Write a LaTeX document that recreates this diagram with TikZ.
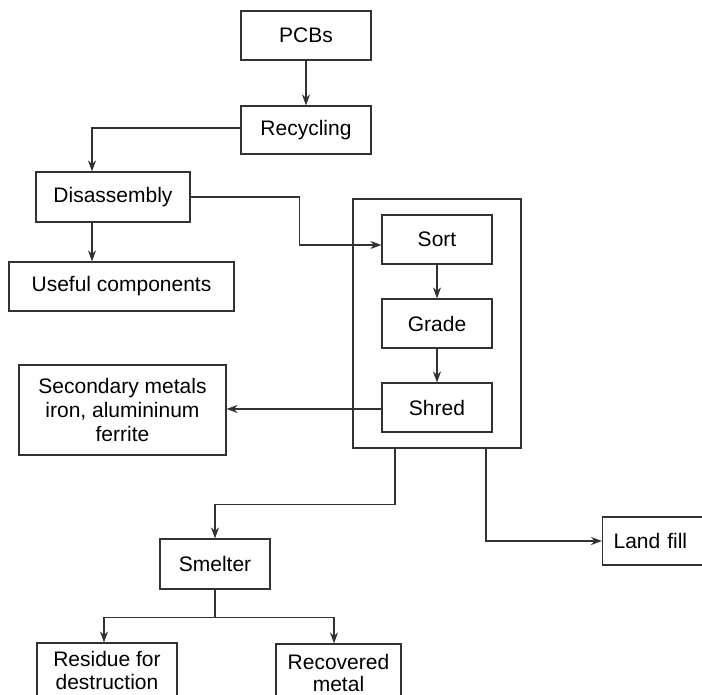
\documentclass[tikz,border=0pt]{standalone}
\usepackage{fontspec}
\setmainfont{Liberation Sans}
\usetikzlibrary{arrows.meta}
\definecolor{ln}{RGB}{50,50,50}
\tikzset{
  bx/.style={draw=ln, line width=1.2pt, inner sep=0pt, align=center, text=black,
             font=\fontsize{21}{24}\selectfont},
  arr/.style={draw=ln, line width=1.2pt, -{Stealth[length=11pt,width=8pt,inset=3.5pt]}},
  plain/.style={draw=ln, line width=1.2pt}
}
\begin{document}
\begin{tikzpicture}[x=1pt,y=-1pt]
\clip (0,0) rectangle (702,695);
\fill[white] (0,0) rectangle (702,695);
% container
\node[bx, minimum width=168pt, minimum height=249pt] (cont) at (437,323.5) {};
% boxes
\node[bx, minimum width=130pt, minimum height=49pt] (pcb) at (306,35.5) {PCBs};
\node[bx, minimum width=130pt, minimum height=48pt] (rec) at (306,130) {Recycling};
\node[bx, minimum width=154pt, minimum height=50pt] (dis) at (113,197) {Disassembly};
\node[bx, minimum width=225pt, minimum height=49pt] (use) at (121.5,286.5) {Useful components};
\node[bx, minimum width=110pt, minimum height=49pt] (sort) at (437,239.5) {Sort};
\node[bx, minimum width=110pt, minimum height=49pt] (grade) at (437,323.5) {Grade};
\node[bx, minimum width=110pt, minimum height=49pt] (shred) at (437,407.5) {Shred};
\node[bx, minimum width=207pt, minimum height=90pt] (sec) at (122.5,410) {Secondary metals\\iron, alumininum\\ferrite};
\node[bx, minimum width=110pt, minimum height=50pt] (smelt) at (215,564) {Smelter};
\node[bx, anchor=west, text width=110pt, align=left, inner xsep=11pt, minimum height=48pt] (land) at (602,541) {Land fill};
\node[bx, font=\fontsize{21}{22.5}\selectfont, minimum width=140pt, minimum height=55pt] (res) at (107,670.5) {Residue for\\destruction};
\node[bx, font=\fontsize{21}{22.5}\selectfont, minimum width=125pt, minimum height=58pt] (recm) at (338.5,673) {Recovered\\metal};
% connectors
\draw[arr] (pcb) -- (rec);
\draw[arr] ([yshift=2pt]rec.west) -| ([xshift=-21pt]dis.north);
\draw[arr] ([xshift=-21pt]dis.south) -- ([xshift=-21pt]dis.south |- use.north);
\draw[arr] (dis.east) -- ++(109,0) |- ([yshift=-5.5pt]sort.west);
\draw[arr] (sort) -- (grade);
\draw[arr] (grade) -- (shred);
\draw[arr] ([yshift=-1.5pt]shred.west) -- ([yshift=-1.5pt]shred.west -| sec.east);
\draw[arr] ([xshift=-42pt]cont.south) -- ++(0,56) -| (smelt.north);
\draw[arr] ([xshift=49pt]cont.south) |- (land.west);
\coordinate (split) at ([yshift=-28pt]smelt.south);
\draw[plain] (smelt.south) -- (split);
\draw[arr] (split) -| ([xshift=-3pt]res.north);
\draw[arr] (split) -| ([xshift=-4.5pt]recm.north);
\end{tikzpicture}
\end{document}
